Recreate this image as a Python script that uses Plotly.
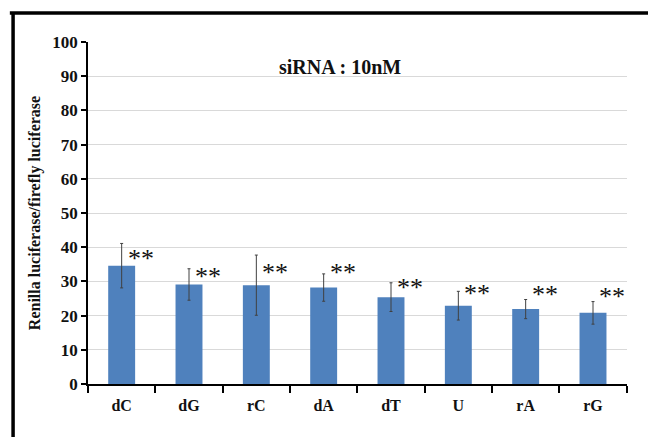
import plotly.graph_objects as go

categories = ["dC", "dG", "rC", "dA", "dT", "U", "rA", "rG"]
values = [34.6, 29.1, 28.9, 28.2, 25.4, 22.9, 21.9, 20.8]
errors = [6.5, 4.6, 8.8, 4.0, 4.2, 4.2, 2.8, 3.3]
star_levels = [36.6, 31.3, 32.7, 32.7, 28.2, 26.4, 26.2, 25.5]
star_text = "**"
title_text = "siRNA : 10nM"
y_title = "Renilla luciferase/firefly luciferase"

serif = "Liberation Serif, Times New Roman, serif"

fig = go.Figure()
fig.add_trace(go.Bar(
    x=categories, y=values, width=0.4,
    marker=dict(color="#4f81bd", line=dict(width=0)),
    error_y=dict(type="data", array=errors, visible=True, color="#404040",
                 thickness=1, width=1.5),
    hoverinfo="skip",
))

for c, lvl in zip(categories, star_levels):
    fig.add_annotation(x=c, y=lvl, text=star_text, showarrow=False,
                       xshift=19, yshift=0,
                       font=dict(family=serif, size=26, color="#111"))

fig.add_annotation(x=0.468, y=0.965, xref="paper", yref="paper", text="<b>" + title_text + "</b>",
                   showarrow=False, font=dict(family=serif, size=20, color="#111"))

# outer frame: left and top edges (right and bottom lie outside the picture)
fig.add_shape(type="line", xref="paper", yref="paper",
              x0=-0.139, x1=-0.139, y0=-0.3, y1=1.085,
              line=dict(color="black", width=3.5))
fig.add_shape(type="line", xref="paper", yref="paper",
              x0=-0.145, x1=1.2, y0=1.085, y1=1.085,
              line=dict(color="black", width=3.5))

fig.update_layout(
    width=648, height=437,
    margin=dict(l=88, r=21, t=42, b=53),
    paper_bgcolor="white", plot_bgcolor="white",
    showlegend=False,
    font=dict(family=serif, color="#111"),
)
fig.update_xaxes(
    showline=True, linecolor="black", linewidth=1.5,
    ticks="outside", tickson="boundaries", ticklen=7, tickcolor="black", tickwidth=1.5,
    tickfont=dict(family=serif, size=16, color="#111"),
    ticklabelstandoff=6,
    tickprefix="<b>", ticksuffix="</b>",
)
fig.update_yaxes(
    range=[0, 100], dtick=10, tick0=0,
    showline=True, linecolor="black", linewidth=1.5,
    ticks="outside", ticklen=5, tickcolor="black", tickwidth=1.5,
    gridcolor="#d9d9d9", gridwidth=1,
    tickfont=dict(family=serif, size=17, color="#111"),
    tickprefix="<b>", ticksuffix="</b>",
    title=dict(text="<b>" + y_title + "</b>", font=dict(family=serif, size=16, color="#111"), standoff=8),
    zeroline=False,
)

fig.write_html("out.html", config={"displayModeBar": False},
               post_script="document.body.style.margin='0';document.body.style.overflow='hidden';")
